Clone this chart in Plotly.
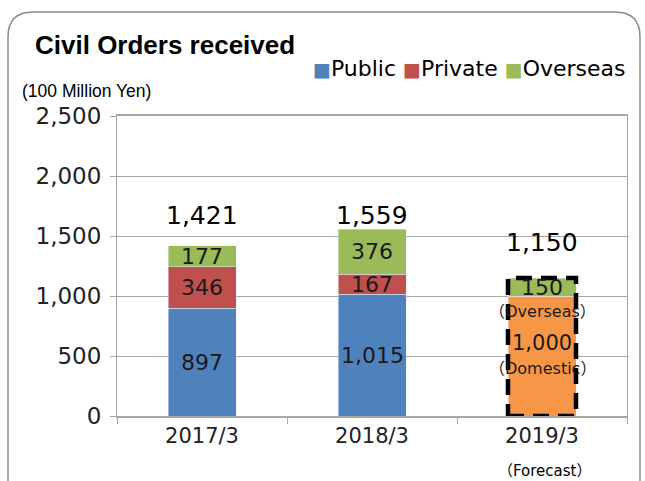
import plotly.graph_objects as go

categories = ["2017/3", "2018/3", "2019/3"]
public = [897, 1015, None]
private = [346, 167, None]
domestic = [None, None, 1000]
overseas = [177, 376, 150]
totals = [1421, 1559, 1150]
total_labels = ["1,421", "1,559", "1,150"]
total_label_offsets = [254, 116, 300]

C_PUB = "#4F81BD"
C_PRI = "#C0504D"
C_OVS = "#9BBB59"
C_DOM = "#F79646"
FONT = "Liberation Sans, Arial, sans-serif"
WIDE = "DejaVu Sans, Noto Sans CJK JP, sans-serif"

W, H = 645, 481
L, R, T, B = 117, 18, 116, 65
PW, PH = W - L - R, H - T - B

def px(x):
    return (x - L) / PW

def py(y):
    return (H - B - y) / PH

fig = go.Figure()
BW = 0.4
fig.add_trace(go.Bar(x=categories, y=public, name="Public", marker_color=C_PUB, width=BW))
fig.add_trace(go.Bar(x=categories, y=private, name="Private", marker_color=C_PRI, width=BW))
fig.add_trace(go.Bar(x=categories, y=domestic, name="Domestic", marker_color=C_DOM, width=BW))
fig.add_trace(go.Bar(x=categories, y=overseas, name="Overseas", marker_color=C_OVS, width=BW))

TXT = "#1a1a1a"
ann = []
for i, c in enumerate(categories):
    base = 0
    segs = [public[i], private[i], domestic[i], overseas[i]]
    for k, v in enumerate(segs):
        if v is None:
            continue
        if k == 2:
            ann.append(dict(x=c, y=base + v * 0.875, text="（Overseas）", showarrow=False,
                            font=dict(size=16, color=TXT, family=WIDE)))
            ann.append(dict(x=c, y=base + v * 0.608, text=f"{v:,}", showarrow=False,
                            font=dict(size=21, color=TXT, family=WIDE)))
            ann.append(dict(x=c, y=base + v * 0.392, text="（Domestic）", showarrow=False,
                            font=dict(size=16, color=TXT, family=WIDE)))
        else:
            ann.append(dict(x=c, y=base + v / 2, text=f"{v:,}", showarrow=False,
                            font=dict(size=22, color=TXT, family=WIDE)))
        base += v
    ann.append(dict(x=c, y=totals[i] + total_label_offsets[i], yanchor="middle",
                    text=total_labels[i], showarrow=False,
                    font=dict(size=25, color="black", family=WIDE)))

ann.append(dict(xref="paper", yref="paper", x=px(33), y=py(45), xanchor="left", yanchor="middle",
                text="<b>Civil Orders received</b>", showarrow=False,
                font=dict(size=26, color="black", family=FONT)))
ann.append(dict(xref="paper", yref="paper", x=px(20), y=py(91), xanchor="left", yanchor="middle",
                text="(100 Million Yen)", showarrow=False,
                font=dict(size=17.5, color="black", family=FONT)))
ann.append(dict(xref="paper", yref="paper", x=px(544), y=py(471), xanchor="center", yanchor="middle",
                text="（Forecast）", showarrow=False,
                font=dict(size=15, color="black", family=WIDE)))

legend_items = [("Public", C_PUB), ("Private", C_PRI), ("Overseas", C_OVS)]
leg_text = " ".join(
    f"<span style='color:{col};font-size:19px'>■</span>{name}" for name, col in legend_items)
ann.append(dict(xref="paper", yref="paper", x=px(628), y=py(68), xanchor="right", yanchor="middle",
                text=leg_text, showarrow=False,
                font=dict(size=22, color="black", family="DejaVu Sans, sans-serif")))

x0, x1 = px(8), px(640)
y0, y1 = py(500), py(12)
rx, ry = 25 / PW, 25 / PH
frame = (f"M {x0},{y0} L {x0},{y1-ry} Q {x0},{y1} {x0+rx},{y1} "
         f"L {x1-rx},{y1} Q {x1},{y1} {x1},{y1-ry} L {x1},{y0}")

shapes = [
    dict(type="path", xref="paper", yref="paper", path=frame,
         line=dict(color="#8C8C8C", width=1.5)),
    dict(type="rect", xref="x", yref="y", x0=2 - BW / 2, x1=2 + BW / 2, y0=0, y1=totals[2],
         line=dict(color="black", width=4.5, dash="16px,9px"), fillcolor="rgba(0,0,0,0)"),
]

fig.update_layout(
    width=W, height=H,
    margin=dict(l=L, r=R, t=T, b=B),
    barmode="stack",
    plot_bgcolor="white", paper_bgcolor="white",
    font=dict(family=WIDE, size=18, color="#222"),
    showlegend=False,
    annotations=ann,
    shapes=shapes,
)
fig.update_yaxes(range=[0, 2500], dtick=500, tickformat=",", showgrid=True,
                 gridcolor="#A6A6A6", gridwidth=1, showline=True, linecolor="#A6A6A6",
                 linewidth=1, mirror=True, ticks="outside", ticklen=6, tickcolor="#A6A6A6",
                 ticklabelstandoff=4,
                 tickfont=dict(size=23, color="#222", family=WIDE), zeroline=False)
fig.update_xaxes(showline=True, linecolor="#A6A6A6", linewidth=1.5, mirror=True,
                 ticks="outside", tickson="boundaries", ticklen=6, tickcolor="#A6A6A6",
                 tickfont=dict(size=21, color="#222", family=WIDE))

fig.write_html("out.html", config={"displayModeBar": False},
               post_script="document.body.style.margin='0px';")
